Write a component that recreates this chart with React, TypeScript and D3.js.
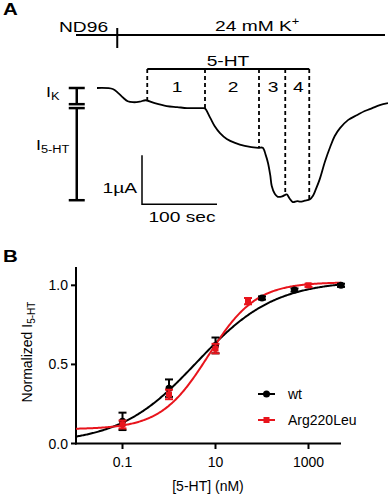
import * as d3 from "d3";
import type { ReactNode } from "react";

// ---- panel A: current trace, time (s) vs current (µA) ----
const traceTime = [0, 21, 28, 35, 41, 48, 57, 65, 77, 93, 107, 120, 133, 141, 144, 151, 157, 164, 173, 184, 197, 215, 221, 225, 228, 231, 233, 237, 241, 247, 251, 253, 257, 261, 267, 271, 277, 284, 288, 292, 297, 304, 311, 317, 324, 335, 347, 357, 367, 377, 388];
const traceCurrent = [0, -0.02, -0.1, -0.2, -0.27, -0.29, -0.28, -0.25, -0.31, -0.37, -0.39, -0.41, -0.41, -0.41, -0.42, -0.61, -0.78, -0.92, -1.04, -1.12, -1.18, -1.22, -1.22, -1.37, -1.53, -1.78, -2.0, -2.16, -2.22, -2.21, -2.18, -2.17, -2.26, -2.33, -2.31, -2.32, -2.3, -2.27, -2.2, -2.06, -1.86, -1.5, -1.2, -0.98, -0.82, -0.65, -0.55, -0.47, -0.41, -0.35, -0.31];
const periodMarks = [67, 144, 216, 251, 283];
const periodLabels = ["1", "2", "3", "4"];
const ndTick = 27;

// ---- panel B: concentration response ----
const xTicks = [0.1, 10, 1000];
const yTicks = [0, 0.5, 1.0];
const wtConc = [0.1, 1, 10, 100, 500, 5000];
const wtMean = [0.14, 0.35, 0.62, 0.92, 0.97, 1.0];
const wtErr = [0.055, 0.055, 0.05, 0.01, 0.01, 0.01];
const mutConc = [0.1, 1, 10, 50, 1000];
const mutMean = [0.12, 0.31, 0.6, 0.9, 1.0];
const mutErr = [0.025, 0.03, 0.03, 0.02, 0.01];
const wtFit = { bottom: 0, top: 1.03, ec50: 4, hill: 0.52 };
const mutFit = { bottom: 0.09, top: 1.02, ec50: 7, hill: 0.85 };

const RED = "#e8141c";
const FONT = "Arial, 'Liberation Sans', sans-serif";

function hill(p: typeof wtFit, c: number) {
  return p.bottom + (p.top - p.bottom) / (1 + Math.pow(p.ec50 / c, p.hill));
}

// panel A lettering is a bit wider than normal in the figure
function WText(props: { x: number; y: number; anchor?: string; size?: number; children: ReactNode }) {
  const { x, y, anchor = "start", size = 15, children } = props;
  return (
    <text transform={`translate(${x},${y}) scale(1.28,1)`} textAnchor={anchor} fontSize={size}>
      {children}
    </text>
  );
}

export default function App() {
  // panel A scales
  const xT = d3.scaleLinear().domain([0, 100]).range([97, 172]);
  const yI = d3.scaleLinear().domain([0, -1]).range([88, 137]);
  const traceAt = d3.scaleLinear().domain(traceTime).range(traceCurrent);
  const traceLine = d3
    .line<number>()
    .x((_, i) => xT(traceTime[i]))
    .y((d) => yI(d))
    .curve(d3.curveCatmullRom);

  // panel B scales
  const x = d3.scaleLog().domain([0.01, 5000]).range([76, 341]);
  const y = d3.scaleLinear().domain([0, 1.1]).range([443.5, 269.5]);
  const grid = d3.range(-2, 3.7001, 0.02).map((l) => Math.pow(10, l));
  const fitLine = (p: typeof wtFit) =>
    d3
      .line<number>()
      .x((c) => x(c))
      .y((c) => y(hill(p, c)))(grid) || "";

  const barX = xT(-27);

  return (
    <svg
      width={388}
      height={500}
      style={{ position: "absolute", left: 0, top: 0, fontFamily: FONT }}
    >
      <rect width={388} height={500} fill="#fff" />
      {/* ---------- Panel A ---------- */}
      <WText x={3} y={15} size={16}>
        <tspan fontWeight="bold">A</tspan>
      </WText>
      <WText x={59} y={32}>ND96</WText>
      <line x1={xT(-28)} x2={xT(384)} y1={35} y2={35} stroke="#000" strokeWidth={2} />
      <line x1={xT(ndTick)} x2={xT(ndTick)} y1={28} y2={48} stroke="#000" strokeWidth={2} />
      <WText x={215} y={31}>
        24 mM K<tspan dy={-6} fontSize={10}>+</tspan>
      </WText>

      <line
        x1={xT(periodMarks[0])}
        x2={xT(periodMarks[periodMarks.length - 1])}
        y1={69}
        y2={69}
        stroke="#000"
        strokeWidth={2.2}
      />
      <WText x={228} y={66} anchor="middle">5-HT</WText>
      {periodMarks.map((t, i) => (
        <line
          key={"d" + i}
          x1={xT(t)}
          x2={xT(t)}
          y1={69}
          y2={yI(traceAt(t))}
          stroke="#000"
          strokeWidth={1.8}
          strokeDasharray="4,3"
        />
      ))}
      {periodLabels.map((l, i) => (
        <WText
          key={"p" + i}
          x={(xT(periodMarks[i]) + xT(periodMarks[i + 1])) / 2 + 1}
          y={92}
          anchor="middle"
        >
          {l}
        </WText>
      ))}

      <path d={traceLine(traceCurrent) || ""} fill="none" stroke="#000" strokeWidth={1.8} />

      {/* I_K / I_5-HT bracket */}
      <g stroke="#000" strokeWidth={2.5}>
        <line x1={barX} x2={barX} y1={yI(0)} y2={yI(-0.33)} />
        <line x1={barX} x2={barX} y1={yI(-0.41)} y2={yI(-2.29)} />
        <line x1={barX - 8} x2={barX + 8} y1={yI(0)} y2={yI(0)} />
        <line x1={barX - 8} x2={barX + 8} y1={yI(-0.33)} y2={yI(-0.33)} />
        <line x1={barX - 8} x2={barX + 8} y1={yI(-0.41)} y2={yI(-0.41)} />
        <line x1={barX - 8} x2={barX + 8} y1={yI(-2.29)} y2={yI(-2.29)} />
      </g>
      <WText x={46} y={97} size={14}>
        I<tspan dy={3} fontSize={10}>K</tspan>
      </WText>
      <WText x={36} y={150} size={14}>
        I<tspan dy={3} fontSize={10}>5-HT</tspan>
      </WText>

      {/* scale bar */}
      <path
        d={`M${xT(60)},${yI(-1.37)}V${yI(-2.37)}H${xT(160)}`}
        fill="none"
        stroke="#000"
        strokeWidth={1.5}
      />
      <WText x={137} y={193} anchor="end">1µA</WText>
      <WText x={182} y={222} anchor="middle">100 sec</WText>

      {/* ---------- Panel B ---------- */}
      <WText x={3} y={262} size={16}>
        <tspan fontWeight="bold">B</tspan>
      </WText>

      <g stroke="#000" strokeWidth={2}>
        <line x1={76} x2={76} y1={267} y2={444.5} />
        <line x1={75} x2={341} y1={443.5} y2={443.5} />
        {yTicks.map((t) => (
          <line key={"yt" + t} x1={71} x2={76} y1={y(t)} y2={y(t)} />
        ))}
        {xTicks.map((t) => (
          <line key={"xt" + t} x1={x(t)} x2={x(t)} y1={443.5} y2={449} />
        ))}
      </g>
      {yTicks.map((t) => (
        <text key={"yl" + t} x={68} y={y(t) + 5} fontSize={14} textAnchor="end">
          {t.toFixed(1)}
        </text>
      ))}
      {xTicks.map((t) => (
        <text key={"xl" + t} x={x(t)} y={467} fontSize={14} textAnchor="middle">
          {String(t)}
        </text>
      ))}
      <text x={208} y={491} fontSize={14} textAnchor="middle">[5-HT] (nM)</text>
      <text transform="translate(32,352) rotate(-90)" fontSize={14} textAnchor="middle">
        Normalized I<tspan dy={3} fontSize={10}>5-HT</tspan>
      </text>

      {/* fits */}
      <path d={fitLine(wtFit)} fill="none" stroke="#000" strokeWidth={2} />
      <path d={fitLine(mutFit)} fill="none" stroke={RED} strokeWidth={2} />

      {/* wt points */}
      {wtConc.map((c, i) => (
        <g key={"w" + i} stroke="#000" strokeWidth={2}>
          <line x1={x(c)} x2={x(c)} y1={y(wtMean[i] - wtErr[i])} y2={y(wtMean[i] + wtErr[i])} />
          <line x1={x(c) - 4} x2={x(c) + 4} y1={y(wtMean[i] - wtErr[i])} y2={y(wtMean[i] - wtErr[i])} />
          <line x1={x(c) - 4} x2={x(c) + 4} y1={y(wtMean[i] + wtErr[i])} y2={y(wtMean[i] + wtErr[i])} />
          <circle cx={x(c)} cy={y(wtMean[i])} r={3.5} fill="#000" stroke="none" />
        </g>
      ))}
      {/* Arg220Leu points */}
      {mutConc.map((c, i) => (
        <g key={"m" + i} stroke={RED} strokeWidth={2}>
          <line x1={x(c)} x2={x(c)} y1={y(mutMean[i] - mutErr[i])} y2={y(mutMean[i] + mutErr[i])} />
          <line x1={x(c) - 4} x2={x(c) + 4} y1={y(mutMean[i] - mutErr[i])} y2={y(mutMean[i] - mutErr[i])} />
          <line x1={x(c) - 4} x2={x(c) + 4} y1={y(mutMean[i] + mutErr[i])} y2={y(mutMean[i] + mutErr[i])} />
          <rect x={x(c) - 3} y={y(mutMean[i]) - 3} width={6} height={6} fill={RED} stroke="none" />
        </g>
      ))}

      {/* legend */}
      <line x1={258} x2={275} y1={394} y2={394} stroke="#000" strokeWidth={2} />
      <circle cx={266.5} cy={394} r={3.5} fill="#000" />
      <text x={288} y={399} fontSize={14}>wt</text>
      <line x1={258} x2={275} y1={420} y2={420} stroke={RED} strokeWidth={2} />
      <rect x={263.5} y={417} width={6} height={6} fill={RED} />
      <text x={288} y={425} fontSize={14}>Arg220Leu</text>
    </svg>
  );
}
